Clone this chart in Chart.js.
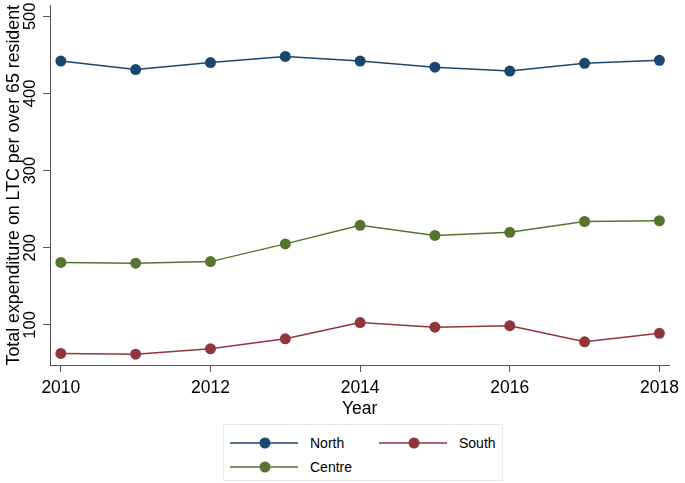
<!DOCTYPE html>
<html>
<head>
<meta charset="utf-8">
<script src="https://cdn.jsdelivr.net/npm/chart.js@4"></script>
<style>
  html, body { margin: 0; padding: 0; background: #fff; }
  #wrap { position: relative; width: 685px; height: 483px; }
  #c { position: absolute; left: 0; top: 0; }
  #legend {
    position: absolute; left: 223px; top: 424px; width: 280px; height: 57px;
    border: 1px solid #e3ebeb; box-sizing: border-box;
    font-family: "Liberation Sans", Arial, sans-serif; font-size: 14px; color: #000;
  }
  .item { position: absolute; height: 14px; line-height: 14px; }
  .item svg { position: absolute; left: 0; top: -1px; }
  .item span { position: absolute; left: 80px; top: 0; white-space: nowrap; }
</style>
</head>
<body>
<div id="wrap">
  <canvas id="c" width="685" height="420"></canvas>
  <div id="legend"></div>
</div>
<script>
var years = [2010, 2011, 2012, 2013, 2014, 2015, 2016, 2017, 2018];
var north = [442, 431, 440, 448, 442, 434, 429, 439, 443];
var south = [63, 62, 69, 82, 103, 97, 99, 78, 89];
var centre = [181, 180, 182, 205, 229, 216, 220, 234, 235];
var xTicks = [2010, 2012, 2014, 2016, 2018];
var yTicks = [100, 200, 300, 400, 500];

var names = ["North", "South", "Centre"];
var colors = ["#1a476f", "#90353b", "#55752f"];
var series = [north, south, centre];

function pts(arr) {
    return years.map(function (yr, i) { return { x: yr, y: arr[i] }; });
}

var datasets = [];
for (var i = 0; i < series.length; i++) {
    datasets.push({
        label: names[i],
        data: pts(series[i]),
        borderColor: colors[i],
        backgroundColor: colors[i],
        borderWidth: 1.5,
        pointRadius: 5.5,
        pointBorderWidth: 0,
        tension: 0
    });
}

var font = "Liberation Sans, Arial, sans-serif";

// y tick labels are vertical in the original
var vertTicks = {
    id: "vertTicks",
    afterDraw: function (chart) {
        var ctx = chart.ctx;
        var ys = chart.scales.y;
        ctx.save();
        ctx.fillStyle = "#000";
        ctx.font = "16.5px " + font;
        ctx.textAlign = "center";
        ctx.textBaseline = "middle";
        yTicks.forEach(function (v) {
            var py = ys.getPixelForValue(v);
            ctx.save();
            ctx.translate(30, py);
            ctx.rotate(-Math.PI / 2);
            ctx.fillText(String(v), 0, 0);
            ctx.restore();
        });
        ctx.restore();
    }
};

new Chart("c", {
    type: "line",
    data: { datasets: datasets },
    plugins: [vertTicks],
    options: {
        responsive: false,
        animation: false,
        layout: { padding: { top: 5, right: 9, left: 0, bottom: 0 } },
        plugins: { legend: { display: false }, tooltip: { enabled: false } },
        scales: {
            x: {
                type: "linear",
                min: 2009.855,
                max: 2018.13,
                afterBuildTicks: function (s) { s.ticks = xTicks.map(function (v) { return { value: v }; }); },
                grid: { drawOnChartArea: false, tickLength: 7, color: "#555", tickColor: "#555" },
                border: { color: "#555", width: 1 },
                ticks: { color: "#000", font: { family: font, size: 17.5 }, padding: 6, maxRotation: 0, autoSkip: false,
                         callback: function (v) { return String(v); } },
                title: { display: true, text: "Year", color: "#000", font: { family: font, size: 17.5 }, padding: { top: -6, bottom: 0 } }
            },
            y: {
                min: 48,
                max: 514,
                afterBuildTicks: function (s) { s.ticks = yTicks.map(function (v) { return { value: v }; }); },
                afterFit: function (s) { s.width = 50; },
                grid: { drawOnChartArea: false, tickLength: 7, color: "#555", tickColor: "#555" },
                border: { color: "#555", width: 1 },
                ticks: { display: true, color: "rgba(0,0,0,0)", font: { size: 1 }, padding: 0 },
                title: { display: true, text: "Total expenditure on LTC per over 65 resident", color: "#000",
                         font: { family: font, size: 17.8 }, padding: { top: 3, bottom: 0 } }
            }
        }
    }
});

// legend: line with marker, like the original
var legend = document.getElementById("legend");
var spots = [
    { left: 6, top: 11 },
    { left: 155, top: 11 },
    { left: 6, top: 35 }
];
for (var k = 0; k < names.length; k++) {
    var d = document.createElement("div");
    d.className = "item";
    d.style.left = spots[k].left + "px";
    d.style.top = spots[k].top + "px";
    d.innerHTML = '<svg width="70" height="16"><line x1="0" y1="8" x2="68" y2="8" stroke="' + colors[k] +
        '" stroke-width="1.5"/><circle cx="35" cy="8" r="5.5" fill="' + colors[k] + '"/></svg><span>' + names[k] + '</span>';
    legend.appendChild(d);
}
</script>
</body>
</html>
